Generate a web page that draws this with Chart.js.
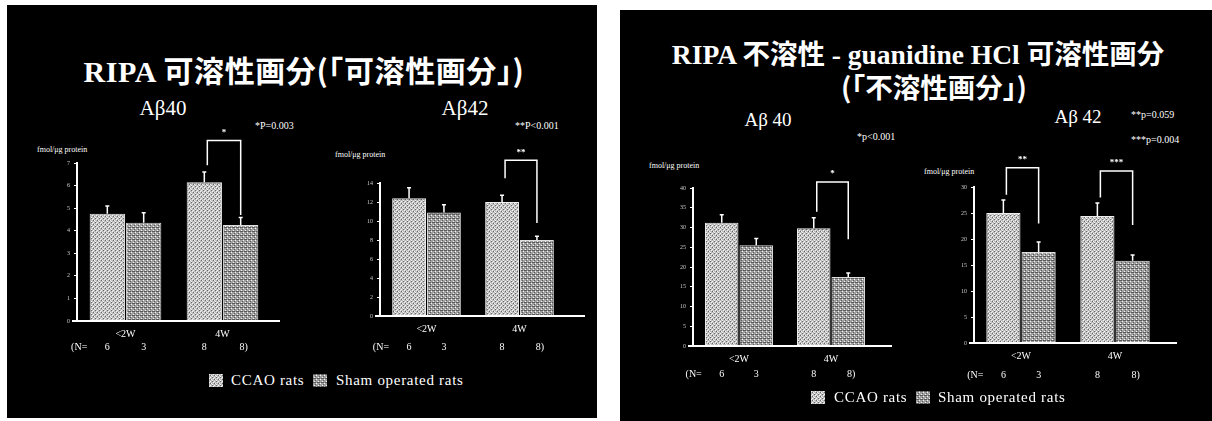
<!DOCTYPE html>
<html lang="ja">
<head>
<meta charset="utf-8">
<script src="https://cdn.jsdelivr.net/npm/chart.js@4.4.0/dist/chart.umd.min.js"></script>
<style>
  body { margin: 0; width: 1212px; height: 421px; background: #fff; position: relative; overflow: hidden; }
  .panel { position: absolute; background: #000; }
  .t { position: absolute; color: #fff; white-space: nowrap;
       font-family: "Liberation Serif", "Times New Roman", "Noto Sans CJK JP", serif; }
  .j { font-family: "Noto Sans CJK JP", sans-serif; }
  .lg { font-size: 15px; line-height: 16px; letter-spacing: 0.7px; }
  .box { position: absolute; }
  .sw { position: absolute; width: 14px; height: 13px; }
</style>
</head>
<body>
<div class="panel" style="left:7px;top:5px;width:590px;height:413px"></div>
<div class="panel" style="left:620px;top:10px;width:592px;height:411px"></div>

<!-- left slide -->
<div class="t" style="left:304px;top:53px;font-size:30px;line-height:32px;font-weight:bold;letter-spacing:0.6px;transform:translateX(-50%)">RIPA <span class="j">可溶性画分(「可溶性画分」)</span></div>
<div class="t" style="left:163px;top:97px;font-size:21px;line-height:22px;transform:translateX(-50%)">Aβ40</div>
<div class="t" style="left:465px;top:97px;font-size:21px;line-height:22px;transform:translateX(-50%)">Aβ42</div>
<div class="t" style="left:255px;top:120px;font-size:10px;line-height:12px">*P=0.003</div>
<div class="t" style="left:515px;top:120px;font-size:10px;line-height:12px">**P&lt;0.001</div>
<div class="t" style="left:37px;top:145px;font-size:8px;line-height:10px">fmol/μg protein</div>
<div class="t" style="left:335px;top:150px;font-size:8px;line-height:10px">fmol/μg protein</div>

<!-- right slide -->
<div class="t" style="left:918px;top:37px;font-size:27.5px;line-height:30px;font-weight:bold;transform:translateX(-50%)">RIPA <span class="j">不溶性</span> - guanidine HCl <span class="j">可溶性画分</span></div>
<div class="t" style="left:934px;top:71px;font-size:27.5px;line-height:30px;font-weight:bold;transform:translateX(-50%)"><span class="j">(「不溶性画分」)</span></div>
<div class="t" style="left:768px;top:110px;font-size:19px;line-height:20px;transform:translateX(-50%)">Aβ 40</div>
<div class="t" style="left:1078px;top:107px;font-size:19px;line-height:20px;transform:translateX(-50%)">Aβ 42</div>
<div class="t" style="left:857px;top:131px;font-size:10px;line-height:12px">*p&lt;0.001</div>
<div class="t" style="left:1131px;top:109px;font-size:10px;line-height:12px">**p=0.059</div>
<div class="t" style="left:1131px;top:134px;font-size:10px;line-height:12px">***p=0.004</div>
<div class="t" style="left:649px;top:161px;font-size:8px;line-height:10px">fmol/μg protein</div>
<div class="t" style="left:924px;top:167px;font-size:8px;line-height:10px">fmol/μg protein</div>

<div class="box" id="b1"><canvas id="c1"></canvas></div>
<div class="box" id="b2"><canvas id="c2"></canvas></div>
<div class="box" id="b3"><canvas id="c3"></canvas></div>
<div class="box" id="b4"><canvas id="c4"></canvas></div>

<!-- legends -->
<canvas class="sw" id="l1a" width="14" height="13" style="left:209px;top:374px"></canvas>
<div class="t lg" style="left:231px;top:372px">CCAO rats</div>
<canvas class="sw" id="l1b" width="14" height="13" style="left:313px;top:374px"></canvas>
<div class="t lg" style="left:336px;top:372px">Sham operated rats</div>
<canvas class="sw" id="l2a" width="14" height="13" style="left:811px;top:391px"></canvas>
<div class="t lg" style="left:834px;top:389px">CCAO rats</div>
<canvas class="sw" id="l2b" width="14" height="13" style="left:916px;top:391px"></canvas>
<div class="t lg" style="left:938px;top:389px">Sham operated rats</div>

<script>
// データ
const groups = ['<2W', '4W'];
const seriesNames = ['CCAO rats', 'Sham operated rats'];
const nCcao = [6, 8];
const nSham = [3, 8];

// RIPA 可溶性 Aβ40
const sol40Ccao = [4.75, 6.15];
const sol40Sham = [4.35, 4.25];
const sol40CcaoErr = [0.35, 0.45];
const sol40ShamErr = [0.45, 0.33];
// RIPA 可溶性 Aβ42
const sol42Ccao = [12.4, 12.0];
const sol42Sham = [10.9, 8.0];
const sol42CcaoErr = [1.1, 0.7];
const sol42ShamErr = [0.8, 0.4];
// 不溶性 Aβ40
const ins40Ccao = [31.2, 29.8];
const ins40Sham = [25.5, 17.5];
const ins40CcaoErr = [2.0, 2.7];
const ins40ShamErr = [1.7, 1.0];
// 不溶性 Aβ42
const ins42Ccao = [25.0, 24.4];
const ins42Sham = [17.5, 15.8];
const ins42CcaoErr = [2.5, 2.5];
const ins42ShamErr = [1.9, 1.1];

// 有意差ブラケット（値の単位で）
const sol40Brackets = [{ group: 1, top: 8.0, left: 6.9, right: 4.7, label: '*' }];
const sol42Brackets = [{ group: 1, top: 16.4, left: 14.5, right: 9.8, label: '**' }];
const ins40Brackets = [{ group: 1, top: 41.5, left: 34, right: 27, label: '*' }];
const ins42Brackets = [
    { group: 0, top: 33.7, left: 28.5, right: 23, label: '**' },
    { group: 1, top: 33.1, left: 28, right: 22.7, label: '***' }
];

// 網掛けパターン
function makeTile(base, white, dark, darkColor) {
    const c = document.createElement('canvas');
    c.width = 4; c.height = 4;
    const g = c.getContext('2d');
    g.fillStyle = base; g.fillRect(0, 0, 4, 4);
    g.fillStyle = '#f4f4f4';
    white.forEach(p => g.fillRect(p[0], p[1], 1, 1));
    g.fillStyle = darkColor;
    dark.forEach(p => g.fillRect(p[0], p[1], 1, 1));
    return c;
}
const tileCcao = makeTile('#bcbcbc', [[0, 0], [2, 1], [1, 3], [3, 2]], [[1, 1], [3, 3]], '#666');
const tileSham = makeTile('#a0a0a0', [[3, 1], [1, 3]], [[0, 0], [1, 0], [2, 0], [2, 2]], '#5a5a5a');
const ctxTmp = document.createElement('canvas').getContext('2d');
const fillCcao = ctxTmp.createPattern(tileCcao, 'repeat');
const fillSham = ctxTmp.createPattern(tileSham, 'repeat');

['l1a', 'l2a', 'l1b', 'l2b'].forEach(id => {
    const g = document.getElementById(id).getContext('2d');
    g.fillStyle = g.createPattern(id.endsWith('a') ? tileCcao : tileSham, 'repeat');
    g.fillRect(0, 0, 14, 13);
});

// エラーバー・ブラケット・N 表示
const extras = {
    id: 'extras',
    afterDatasetsDraw(chart, args, opts) {
        const ctx = chart.ctx;
        const ys = chart.scales.y;
        const area = chart.chartArea;
        ctx.save();
        ctx.strokeStyle = '#fff';
        ctx.fillStyle = '#fff';
        // 横軸
        ctx.lineWidth = 2;
        ctx.beginPath();
        ctx.moveTo(area.left - 5, area.bottom);
        ctx.lineTo(area.right + opts.extend, area.bottom);
        ctx.stroke();
        // エラーバー
        ctx.lineWidth = 1.5;
        chart.data.datasets.forEach((ds, i) => {
            chart.getDatasetMeta(i).data.forEach((bar, j) => {
                const top = ys.getPixelForValue(ds.data[j] + ds.errors[j]);
                ctx.beginPath();
                ctx.moveTo(bar.x, bar.y);
                ctx.lineTo(bar.x, top);
                ctx.moveTo(bar.x - 2, top);
                ctx.lineTo(bar.x + 2, top);
                ctx.stroke();
            });
        });
        // N=
        ctx.font = '10px "Liberation Serif", "Times New Roman", serif';
        ctx.textAlign = 'center';
        ctx.textBaseline = 'middle';
        const ny = area.bottom + opts.nOffset;
        const xs = [];
        groups.forEach((g, j) => {
            const a = chart.getDatasetMeta(0).data[j];
            const b = chart.getDatasetMeta(1).data[j];
            const last = j === groups.length - 1;
            ctx.fillText(String(nCcao[j]), a.x, ny);
            ctx.fillText(String(nSham[j]) + (last ? ')' : ''), b.x + (last ? 3 : 0), ny);
            xs.push(a.x);
        });
        ctx.textAlign = 'right';
        ctx.fillText('(N=', xs[0] - 20, ny);
        // ブラケット
        ctx.lineWidth = 1.5;
        ctx.textAlign = 'center';
        ctx.font = 'bold 9px "Liberation Serif", serif';
        opts.brackets.forEach(b => {
            const x1 = chart.getDatasetMeta(0).data[b.group].x + 3;
            const x2 = chart.getDatasetMeta(1).data[b.group].x;
            const yt = ys.getPixelForValue(b.top);
            ctx.beginPath();
            ctx.moveTo(x1, ys.getPixelForValue(b.left));
            ctx.lineTo(x1, yt);
            ctx.lineTo(x2, yt);
            ctx.lineTo(x2, ys.getPixelForValue(b.right));
            ctx.stroke();
            ctx.fillText(b.label, (x1 + x2) / 2, yt - 8);
        });
        ctx.restore();
    }
};

const Y_W = 22, X_H = 40;

function makeChart(n, box, area, yMax, yStep, ccao, sham, ccaoErr, shamErr, brackets, nOffset, extend) {
    const el = document.getElementById('b' + n);
    el.style.left = box.x + 'px';
    el.style.top = box.y + 'px';
    el.style.width = box.w + 'px';
    el.style.height = box.h + 'px';
    new Chart(document.getElementById('c' + n), {
        type: 'bar',
        data: {
            labels: groups,
            datasets: [
                { label: seriesNames[0], data: ccao, errors: ccaoErr, backgroundColor: fillCcao,
                  borderColor: '#eee', borderWidth: 1, barPercentage: 0.97, categoryPercentage: 0.75 },
                { label: seriesNames[1], data: sham, errors: shamErr, backgroundColor: fillSham,
                  borderColor: '#ddd', borderWidth: 1, barPercentage: 0.97, categoryPercentage: 0.75 }
            ]
        },
        options: {
            responsive: true,
            maintainAspectRatio: false,
            animation: false,
            layout: {
                padding: {
                    left: area.l - box.x - Y_W,
                    top: area.t - box.y,
                    right: box.x + box.w - area.r,
                    bottom: box.y + box.h - area.b - X_H
                }
            },
            plugins: {
                legend: { display: false },
                tooltip: { enabled: false },
                extras: { brackets: brackets, nOffset: nOffset, extend: extend }
            },
            scales: {
                x: {
                    grid: { display: false, drawTicks: false },
                    border: { display: false },
                    ticks: { color: '#fff', font: { size: 10, family: 'Liberation Serif' }, padding: 7 },
                    afterFit: s => { s.height = X_H; }
                },
                y: {
                    min: 0,
                    max: yMax,
                    ticks: { stepSize: yStep, color: '#ccc', font: { size: 6, family: 'Liberation Serif' }, padding: 4 },
                    grid: { drawOnChartArea: false, drawTicks: true, tickLength: 3, color: '#fff' },
                    border: { display: true, color: '#fff', width: 2 },
                    afterFit: s => { s.width = Y_W; }
                }
            }
        },
        plugins: [extras]
    });
}

makeChart(1, { x: 40, y: 115, w: 250, h: 250 }, { l: 77, t: 163, r: 271, b: 321 }, 7, 1,
    sol40Ccao, sol40Sham, sol40CcaoErr, sol40ShamErr, sol40Brackets, 26, 9);
makeChart(2, { x: 340, y: 130, w: 250, h: 235 }, { l: 380, t: 183, r: 566, b: 316 }, 14, 2,
    sol42Ccao, sol42Sham, sol42CcaoErr, sol42ShamErr, sol42Brackets, 31, 19);
makeChart(3, { x: 655, y: 150, w: 240, h: 240 }, { l: 693, t: 188, r: 877, b: 346 }, 40, 5,
    ins40Ccao, ins40Sham, ins40CcaoErr, ins40ShamErr, ins40Brackets, 28, 15);
makeChart(4, { x: 935, y: 140, w: 250, h: 250 }, { l: 974, t: 187, r: 1162, b: 343 }, 30, 5,
    ins42Ccao, ins42Sham, ins42CcaoErr, ins42ShamErr, ins42Brackets, 32, 15);
</script>
</body>
</html>
